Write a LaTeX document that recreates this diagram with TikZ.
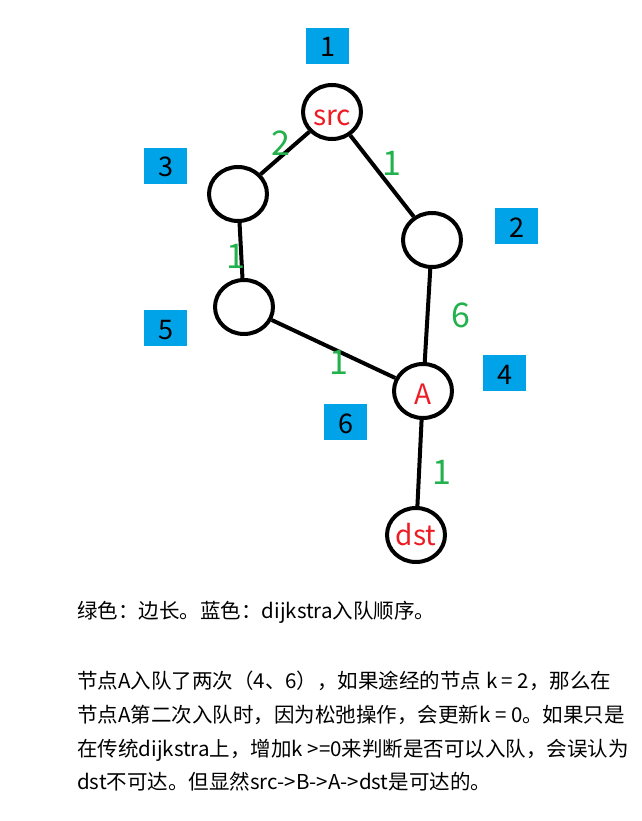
\documentclass[tikz,border=0pt]{standalone}
\usepackage{fontspec}
\setmainfont{Noto Sans CJK SC}
\usepackage{tikz}
\usetikzlibrary{shapes.geometric, positioning}
\definecolor{ordblue}{HTML}{00A2E8}
\definecolor{lenGreen}{HTML}{22B14C}
\definecolor{nameRed}{HTML}{ED1C24}

\begin{document}
\begin{tikzpicture}[
  x=1pt, y=-1pt,
  vertex/.style={ellipse, draw, line width=4pt, minimum width=58pt, minimum height=54pt, inner sep=0pt, text=nameRed, font=\fontsize{28}{30}\selectfont},
  order/.style={rectangle, fill=ordblue, minimum width=43pt, minimum height=36pt, inner sep=0pt, text height=29pt, text depth=7pt, font=\fontsize{27}{29}\selectfont},
  wt/.style={text=lenGreen, inner sep=0pt, font=\fontsize{34}{36}\selectfont},
  edge/.style={line width=4pt},
  note/.style={align=left, inner sep=0pt, font=\fontsize{20.5}{33.7}\selectfont}
]
\useasboundingbox (0,0) rectangle (641,821);
\node[vertex] (src) at (332,112) {\raisebox{-6pt}[\height][\depth]{src}};
\node[vertex] (left) at (238,194) {};
\node[vertex] (right) at (432,240) {};
\node[vertex] (low) at (244,307) {};
\node[vertex] (A) at (423,391) {\raisebox{-3pt}[\height][\depth]{A}};
\node[vertex] (dst) at (416,535) {dst};
\node[order] (q1) at (327.5,46) {1};
\node[order] (q2) at (516.5,226) {2};
\node[order] (q3) at (165.5,166) {3};
\node[order] (q4) at (504.5,373) {4};
\node[order] (q5) at (165.5,328) {5};
\node[order] (q6) at (345.5,422) {6};
\draw[edge] (src) -- node[wt, xshift=-4, yshift=10]{2} (left);
\draw[edge] (src) -- node[wt, xshift=10, yshift=13]{1} (right);
\draw[edge] (left) -- node[wt, xshift=-5, yshift=-5.5]{1} (low);
\draw[edge] (right) -- node[wt, xshift=33.5]{6} (A);
\draw[edge] (low) -- node[wt, xshift=5.5, yshift=-13]{1} (A);
\draw[edge] (A) -- node[wt, xshift=22.5, yshift=-9]{1} (dst);
\node[note, anchor=base west] (legend) at (77,618) {绿色：边长。蓝色：dijkstra入队顺序。};
\node[note, anchor=north west] (remark) at (77,671) {节点A入队了两次（4、6），如果途经的节点 k = 2，那么在\\
节点A第二次入队时，因为松弛操作，会更新k = 0。如果只是\\
在传统dijkstra上，增加k >=0来判断是否可以入队，会误认为\\
dst不可达。但显然src->B->A->dst是可达的。};
\end{tikzpicture}
\end{document}
